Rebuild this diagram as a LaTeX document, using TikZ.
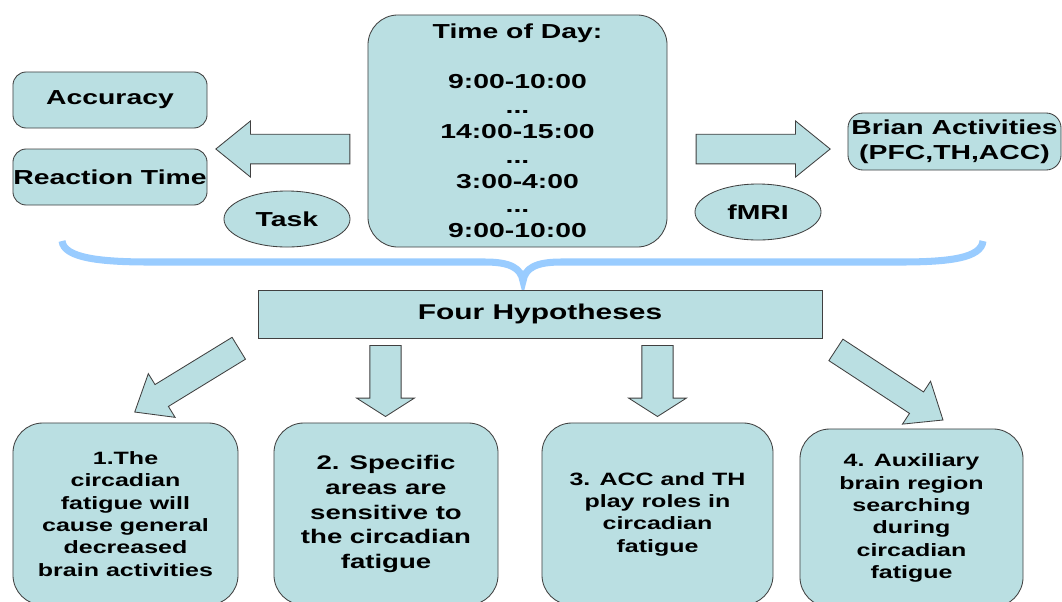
\documentclass[tikz,border=0pt]{standalone}
\usepackage{fontspec}
\setmainfont{Liberation Sans}[FakeStretch=1.4]
\usetikzlibrary{shapes.geometric,shapes.arrows}
\definecolor{boxfill}{RGB}{186,223,226}
\definecolor{boxline}{RGB}{64,64,64}
\definecolor{bracecol}{RGB}{153,204,255}

\begin{document}
\begin{tikzpicture}[
  x=0.025cm, y=-0.025cm, line width=.6pt,
  box/.style={draw=boxline,fill=boxfill,align=center,inner sep=0pt},
  oval/.style={box,ellipse,minimum width=3.15cm,minimum height=1.4cm},
  hbox/.style={box,rounded corners=.75cm,minimum height=4.55cm},
  blk/.style={draw=boxline,fill=boxfill,single arrow,inner xsep=0pt,
    single arrow head indent=0pt,minimum width=0pt},
  big/.style={font=\bfseries\fontsize{14.4}{17.7}\selectfont},
  small/.style={font=\bfseries\fontsize{12.7}{15.9}\selectfont},
  every node/.style={big}
]
  \useasboundingbox (0,0) rectangle (1062,601);
  \fill[white] (0,0) rectangle (1062,601);
  \clip (0,0) rectangle (1062,601);
  % top row
  \node[box,rounded corners=.33cm,minimum width=4.85cm,minimum height=1.4cm] (acc) at (110,100) {Accuracy};
  \node[box,rounded corners=.33cm,minimum width=4.85cm,minimum height=1.4cm] (rt) at (110,177) {Reaction Time};
  \node[box,rounded corners=.75cm,minimum width=7.475cm,minimum height=5.8cm] (tod) at (517.5,131)
    {Time of Day:\\[17.7pt]9:00-10:00\\...\\14:00-15:00\\...\\3:00-4:00\\...\\9:00-10:00};
  \node[oval] (task) at (287,219) {Task};
  \node[oval] (fmri) at (758,212) {fMRI};
  \node[box,rounded corners=.375cm,minimum width=5.325cm,minimum height=1.425cm] (brain) at (954.5,141.5)
    {Brian Activities\\(PFC,TH,ACC)};
  \node[blk,rotate=180,minimum height=3.35cm,inner ysep=.36cm,single arrow head extend=.33cm,
    single arrow tip angle=78] (a0) at (292,149) {};
  \node[blk,minimum height=3.35cm,inner ysep=.36cm,single arrow head extend=.33cm,
    single arrow tip angle=78] (a1) at (754,149) {};
  % brace
  \draw[bracecol,line width=5pt] (62,241) .. controls (64,258) and (100,262) .. (150,262) -- (485,262)
    .. controls (510,262) and (521,268) .. (523,281) .. controls (525,268) and (536,262) .. (561,262)
    -- (900,262) .. controls (950,262) and (981,258) .. (983,241);
  % hypotheses
  \node[box,minimum width=14.1cm,minimum height=1.2cm,font=\bfseries\fontsize{15.2}{18}\selectfont] (hyp) at (540,314) {Four Hypotheses};
  \node[blk,rotate=211.5,minimum height=3.05cm,inner ysep=.31cm,single arrow head extend=.32cm,
    single arrow tip angle=78] (a2) at (193.5,376) {};
  \node[blk,rotate=-90,minimum height=1.775cm,inner ysep=.38cm,single arrow head extend=.33cm,
    single arrow tip angle=115] (a3) at (385.5,376) {};
  \node[blk,rotate=-90,minimum height=1.775cm,inner ysep=.38cm,single arrow head extend=.33cm,
    single arrow tip angle=115] (a4) at (657.5,376) {};
  \node[blk,rotate=-33.2,minimum height=3.2cm,inner ysep=.31cm,single arrow head extend=.32cm,
    single arrow tip angle=78] (a5) at (882.8,380.6) {};
  \node[hbox,small,minimum width=5.625cm] (h1) at (125.5,514)
    {1.The\\circadian\\fatigue will\\cause general\\decreased\\brain activities};
  \node[hbox,font=\bfseries\fontsize{14}{17.7}\selectfont,minimum width=5.6cm] (h2) at (386,514)
    {2. Specific\\areas are\\sensitive to\\the circadian\\fatigue};
  \node[hbox,small,minimum width=5.775cm] (h3) at (657.5,514)
    {3. ACC and TH\\play roles in\\circadian\\fatigue};
  \node[hbox,small,minimum width=5.575cm,minimum height=4.45cm] (h4) at (911.5,518)
    {4. Auxiliary\\brain region\\searching\\during\\circadian\\fatigue};
\end{tikzpicture}
\end{document}
